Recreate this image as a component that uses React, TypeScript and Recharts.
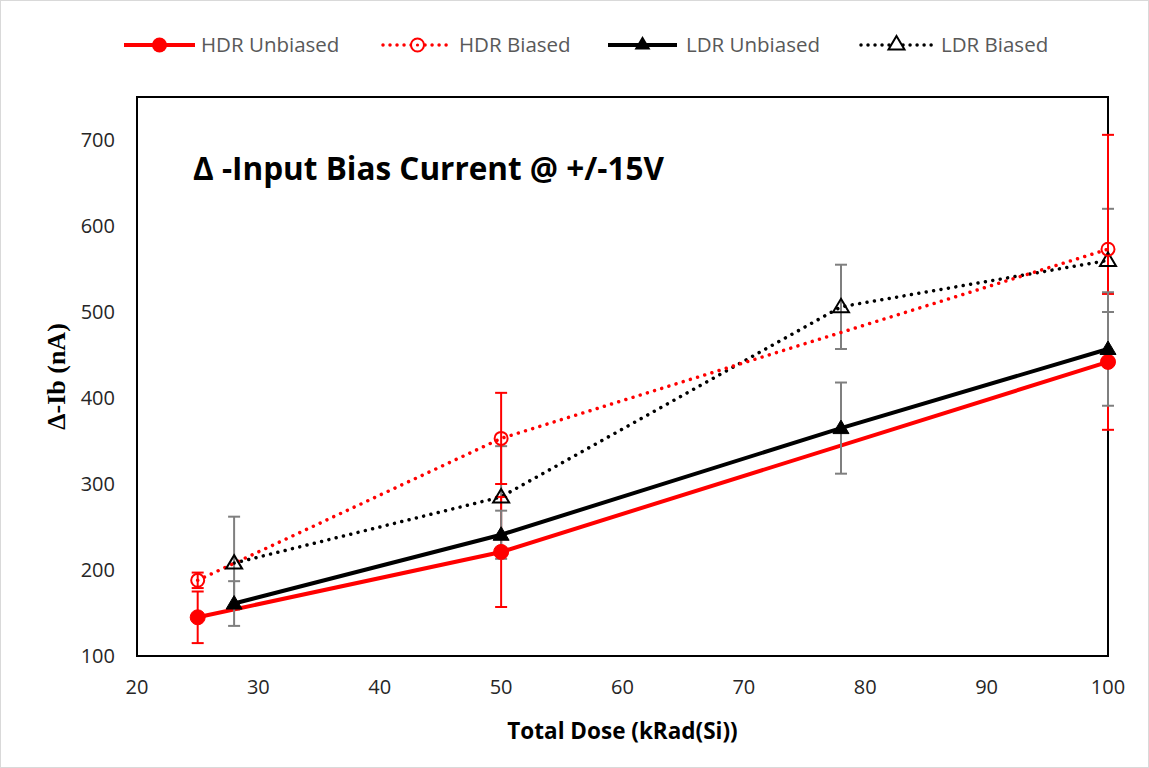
import React from "react";
import {
  LineChart,
  Line,
  XAxis,
  YAxis,
  ErrorBar,
  ReferenceArea,
} from "recharts";

const hdrUnbX = [25, 50, 100];
const hdrUnbY = [145, 221, 442];
const hdrUnbErr = [30, 64, 79];

const hdrBiasX = [25, 50, 100];
const hdrBiasY = [188, 353, 573];
const hdrBiasErr = [9, 53, 133];

const ldrUnbX = [28, 50, 78, 100];
const ldrUnbY = [161, 241, 365, 457];
const ldrUnbErr = [26, 28, 53, 66];

const ldrBiasX = [28, 50, 78, 100];
const ldrBiasY = [208, 285, 506, 560];
const ldrBiasErr = [54, 59, 49, 60];

const xTicks = [20, 30, 40, 50, 60, 70, 80, 90, 100];
const yTicks = [100, 200, 300, 400, 500, 600, 700];

const seriesNames = ["HDR Unbiased", "HDR Biased", "LDR Unbiased", "LDR Biased"];

const build = (xs: number[], ys: number[], es: number[]) =>
  xs.map((x, i) => ({ x, y: ys[i], err: es[i] }));

const hdrUnb = build(hdrUnbX, hdrUnbY, hdrUnbErr);
const hdrBias = build(hdrBiasX, hdrBiasY, hdrBiasErr);
const ldrUnb = build(ldrUnbX, ldrUnbY, ldrUnbErr);
const ldrBias = build(ldrBiasX, ldrBiasY, ldrBiasErr);

const RED = "#ff0000";
const BLACK = "#000000";
const GRAY = "#7f7f7f";
const FONT = "'Open Sans', sans-serif";

const filledCircle = (p: any) => (
  <circle key={`fc-${p.index}`} cx={p.cx} cy={p.cy} r={7.5} fill={RED} stroke={RED} />
);
const openCircle = (p: any) => (
  <circle key={`oc-${p.index}`} cx={p.cx} cy={p.cy} r={6.5} fill="none" stroke={RED} strokeWidth={2} />
);
const triPath = (cx: number, cy: number) =>
  `M${cx},${cy - 8} L${cx + 8},${cy + 5.5} L${cx - 8},${cy + 5.5} Z`;
const filledTri = (p: any) => (
  <path key={`ft-${p.index}`} d={triPath(p.cx, p.cy)} fill={BLACK} stroke={BLACK} strokeWidth={1} />
);
const openTri = (p: any) => (
  <path key={`ot-${p.index}`} d={triPath(p.cx, p.cy)} fill="none" stroke={BLACK} strokeWidth={2} />
);

const LegendBar = () => {
  const items = [
    { x0: 123, x1: 194, color: RED, dash: undefined, w: 4, marker: "fc" },
    { x0: 382, x1: 451, color: RED, dash: "0.01 7", w: 3.5, marker: "oc" },
    { x0: 607, x1: 676, color: BLACK, dash: undefined, w: 4, marker: "ft" },
    { x0: 860, x1: 931, color: BLACK, dash: "0.01 7", w: 3.5, marker: "ot" },
  ];
  const textX = [200, 458, 685, 940];
  const cy = 44;
  return (
    <svg
      width={1147}
      height={70}
      style={{ position: "absolute", left: 0, top: 0, display: "block" }}
    >
      {items.map((it, i) => {
        const mx = (it.x0 + it.x1) / 2;
        return (
          <g key={i}>
            <line
              x1={it.x0}
              y1={cy}
              x2={it.x1}
              y2={cy}
              stroke={it.color}
              strokeWidth={it.w}
              strokeDasharray={it.dash}
              strokeLinecap={it.dash ? "round" : "butt"}
            />
            {it.marker === "fc" && <circle cx={mx} cy={cy} r={7.5} fill={RED} />}
            {it.marker === "oc" && (
              <circle cx={mx} cy={cy} r={6.5} fill="#fff" stroke={RED} strokeWidth={2} />
            )}
            {it.marker === "oc" && <circle cx={mx} cy={cy} r={1.6} fill={RED} />}
            {it.marker === "ft" && <path d={triPath(mx, cy - 1)} fill={BLACK} />}
            {it.marker === "ot" && (
              <path d={triPath(mx, cy - 1)} fill="#fff" stroke={BLACK} strokeWidth={2} />
            )}
            <text
              x={textX[i]}
              y={cy + 7}
              fontFamily={FONT}
              fontSize={20.5}
              fill="#595959"
            >
              {seriesNames[i]}
            </text>
          </g>
        );
      })}
    </svg>
  );
};

export default function App() {
  return (
    <div
      style={{
        position: "absolute",
        left: 0,
        top: 0,
        width: 1149,
        height: 768,
        background: "#fff",
        boxSizing: "border-box",
        border: "1px solid #d9d9d9",
      }}
    >
      <LineChart
        width={1147}
        height={766}
        margin={{ top: 96, right: 40, bottom: 0, left: 0 }}
      >
        <XAxis
          type="number"
          dataKey="x"
          domain={[20, 100]}
          ticks={xTicks}
          allowDuplicatedCategory={false}
          tickLine={false}
          tickSize={0}
          tickMargin={24}
          axisLine={{ stroke: "#000", strokeWidth: 2 }}
          tick={{ fontFamily: FONT, fontSize: 20, fill: "#262626" }}
          height={111}
          label={{
            value: "Total Dose (kRad(Si))",
            position: "insideBottom",
            offset: 28,
            style: { fontFamily: FONT, fontWeight: 700, fontSize: 22.5, fill: "#000" },
          }}
        />
        <YAxis
          type="number"
          domain={[100, 750]}
          ticks={yTicks}
          tickLine={false}
          tickSize={0}
          tickMargin={22}
          width={136}
          axisLine={{ stroke: "#000", strokeWidth: 2 }}
          tick={{ fontFamily: FONT, fontSize: 20, fill: "#262626" }}
          label={{
            value: "Δ-Ib (nA)",
            angle: -90,
            position: "insideLeft",
            offset: 55,
            style: {
              fontFamily: "'Liberation Serif', 'Times New Roman', serif",
              fontWeight: 700,
              fontSize: 26,
              fill: "#000",
              textAnchor: "middle",
            },
          }}
        />
        <ReferenceArea
          x1={20}
          x2={100}
          y1={100}
          y2={750}
          fill="none"
          stroke="#000"
          strokeWidth={2}
          ifOverflow="extendDomain"
          label={{
            value: "Δ -Input Bias Current @ +/-15V",
            position: "insideTopLeft",
            offset: 0,
            dx: 56,
            dy: 61,
            style: { fontFamily: FONT, fontWeight: 700, fontSize: 31.5, fill: "#000" },
          }}
        />
        <Line
          data={ldrBias}
          dataKey="y"
          name="LDR Biased"
          stroke={BLACK}
          strokeWidth={3.5}
          strokeDasharray="0.01 7.5"
          strokeLinecap="round"
          dot={openTri}
          activeDot={false}
          isAnimationActive={false}
        >
          <ErrorBar dataKey="err" direction="y" width={6} stroke={GRAY} strokeWidth={2} />
        </Line>
        <Line
          data={hdrBias}
          dataKey="y"
          name="HDR Biased"
          stroke={RED}
          strokeWidth={3.5}
          strokeDasharray="0.01 7.5"
          strokeLinecap="round"
          dot={openCircle}
          activeDot={false}
          isAnimationActive={false}
        >
          <ErrorBar dataKey="err" direction="y" width={6} stroke={RED} strokeWidth={2} />
        </Line>
        <Line
          data={hdrUnb}
          dataKey="y"
          name="HDR Unbiased"
          stroke={RED}
          strokeWidth={4}
          dot={filledCircle}
          activeDot={false}
          isAnimationActive={false}
        >
          <ErrorBar dataKey="err" direction="y" width={6} stroke={RED} strokeWidth={2} />
        </Line>
        <Line
          data={ldrUnb}
          dataKey="y"
          name="LDR Unbiased"
          stroke={BLACK}
          strokeWidth={4}
          dot={filledTri}
          activeDot={false}
          isAnimationActive={false}
        >
          <ErrorBar dataKey="err" direction="y" width={6} stroke={GRAY} strokeWidth={2} />
        </Line>
      </LineChart>
      <LegendBar />
    </div>
  );
}
